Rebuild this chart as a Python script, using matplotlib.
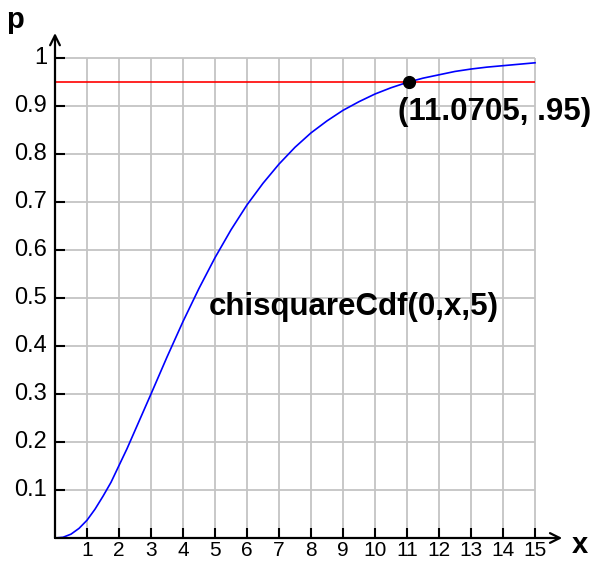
import matplotlib
matplotlib.use("Agg")
import matplotlib.pyplot as plt

# values (chi-square cdf, 5 degrees of freedom)
xs = [0, 0.25, 0.5, 0.75, 1, 1.25, 1.5, 1.75, 2, 2.25, 2.5, 3, 3.5, 4,
      4.5, 5, 5.5, 6, 6.5, 7, 7.5, 8, 8.5, 9, 9.5, 10, 10.5, 11, 11.5, 12,
      12.5, 13, 13.5, 14, 14.5, 15]
ps = [0.0, 0.0015, 0.008, 0.020, 0.037, 0.060, 0.087, 0.116, 0.151, 0.186,
      0.224, 0.300, 0.377, 0.451, 0.520, 0.584, 0.642, 0.694, 0.739, 0.779,
      0.814, 0.844, 0.869, 0.891, 0.909, 0.925, 0.938, 0.949, 0.958, 0.965,
      0.972, 0.977, 0.981, 0.984, 0.987, 0.990]
x_ticks = list(range(1, 16))
y_ticks = [0.1, 0.2, 0.3, 0.4, 0.5, 0.6, 0.7, 0.8, 0.9, 1.0]
y_labels = ["0.1", "0.2", "0.3", "0.4", "0.5", "0.6", "0.7", "0.8", "0.9", "1"]
crit_x = 11.0705
crit_p = 0.95

plt.rcParams['font.family'] = ['Liberation Sans', 'DejaVu Sans']

fig = plt.figure(figsize=(5.98, 5.64), dpi=100)
ax = fig.add_axes([0, 0, 1, 1])
ax.set_xlim(-55 / 32, 543 / 32)
ax.set_ylim(-26 / 480, 538 / 480)
ax.axis("off")

grid_c = "#c4c4c4"
ax.vlines(x_ticks, 0, 1, color=grid_c, lw=1.3, zorder=1)
ax.hlines(y_ticks, 0, 15, color=grid_c, lw=1.3, zorder=1)

# tick marks
ax.vlines(x_ticks, 0, 10 / 480, color="black", lw=1.5, zorder=3)
ax.hlines(y_ticks, 0, 10 / 32, color="black", lw=1.5, zorder=3)

# axes with arrows
arrow = dict(arrowstyle="->,head_length=0.7,head_width=0.35",
             color="black", lw=1.6, shrinkA=0, shrinkB=0)
ax.annotate("", xy=(15.85, 0), xytext=(0, 0), arrowprops=arrow, zorder=4)
ax.annotate("", xy=(0, 1.052), xytext=(0, 0), arrowprops=arrow, zorder=4)

for t in x_ticks:
    ax.text(t, -3 / 480, str(t), ha="center", va="top", fontsize=15)
for t, lab in zip(y_ticks, y_labels):
    ax.text(-8 / 32, t, lab, ha="right", va="center", fontsize=17)

ax.text(-1.25, 1.079, "p", ha="center", va="center", fontsize=21,
        fontweight="bold")
ax.text(16.41, -0.0146, "x", ha="center", va="center", fontsize=21,
        fontweight="bold")

ax.hlines(crit_p, 0, 15, color="#ff0000", lw=1.2, zorder=2)
ax.plot(xs, ps, color="#0000ff", lw=1.2, zorder=3)
ax.plot([crit_x], [crit_p], "o", color="black", ms=8.5, zorder=5)

ax.text(10.72, 0.8875, "(11.0705, .95)", ha="left", va="center",
        fontsize=22.5, fontweight="bold")
ax.text(4.81, 0.481, "chisquareCdf(0,x,5)", ha="left", va="center",
        fontsize=22.5, fontweight="bold")

fig.savefig("out.png", dpi=100)
